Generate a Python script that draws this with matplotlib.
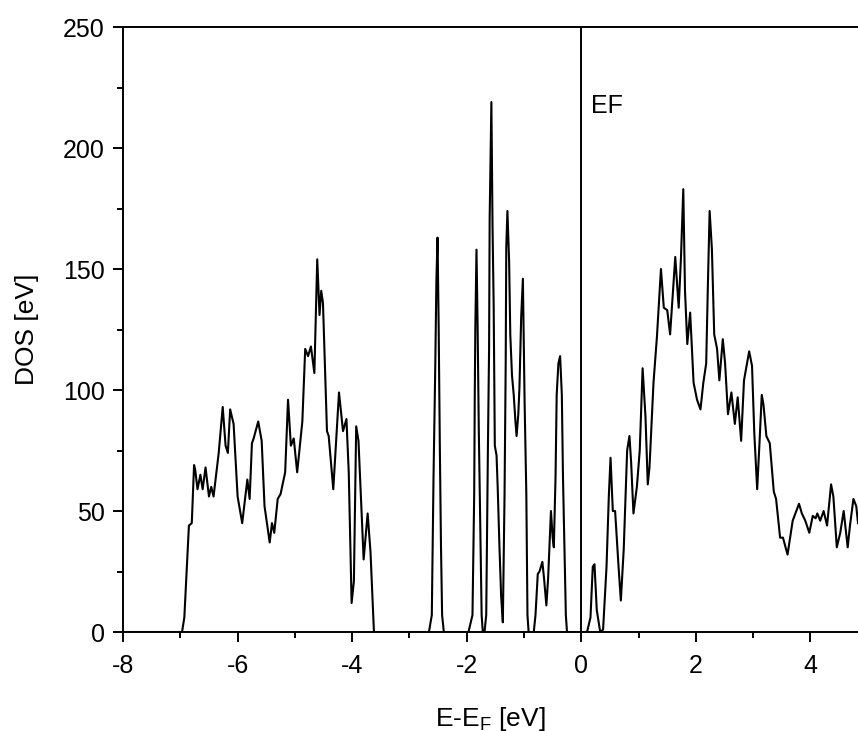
import matplotlib
matplotlib.use("Agg")
import matplotlib.pyplot as plt
from matplotlib.ticker import MultipleLocator

plt.rcParams["font.family"] = ["Liberation Sans", "DejaVu Sans"]
plt.rcParams["axes.unicode_minus"] = False
plt.rcParams["mathtext.fontset"] = "custom"
plt.rcParams["mathtext.rm"] = "Liberation Sans"

# energy relative to Fermi level (eV) and density of states
energy = [
    -8.00, -6.97, -6.93, -6.88, -6.85, -6.80, -6.76, -6.74, -6.70, -6.65,
    -6.61, -6.56, -6.50, -6.46, -6.42, -6.33, -6.26, -6.21, -6.17, -6.13,
    -6.07, -6.00, -5.92, -5.83, -5.79, -5.75, -5.72, -5.64, -5.58, -5.53,
    -5.44, -5.40, -5.36, -5.30, -5.25, -5.17, -5.12, -5.07, -5.02, -4.96,
    -4.87, -4.82, -4.77, -4.72, -4.66, -4.61, -4.57, -4.54, -4.51, -4.44,
    -4.41, -4.33, -4.28, -4.23, -4.16, -4.10, -4.06, -4.01, -3.97, -3.93,
    -3.89, -3.80, -3.73, -3.68, -3.62,
    -2.66, -2.61, -2.58, -2.55, -2.53, -2.51, -2.49, -2.47, -2.45, -2.43, -2.40,
    -1.97, -1.90, -1.87, -1.86, -1.85, -1.83, -1.81, -1.79, -1.76, -1.74, -1.72,
    -1.69, -1.66, -1.63, -1.61, -1.60, -1.57, -1.55, -1.53, -1.51, -1.48,
    -1.46, -1.43, -1.40, -1.37, -1.34, -1.32, -1.31, -1.29, -1.26, -1.24,
    -1.21, -1.18, -1.15, -1.13, -1.10, -1.08, -1.05, -1.02, -0.99, -0.96,
    -0.94, -0.92,
    -0.83, -0.80, -0.76, -0.73, -0.68, -0.65, -0.61, -0.58, -0.53, -0.50,
    -0.48, -0.45, -0.43, -0.40, -0.37, -0.34, -0.32, -0.29, -0.27, -0.25,
    0.10, 0.16, 0.20, 0.23, 0.27, 0.33, 0.38, 0.44, 0.48, 0.51,
    0.55, 0.59, 0.65, 0.69, 0.74, 0.80, 0.84, 0.87, 0.91, 0.97,
    1.02, 1.07, 1.12, 1.16, 1.19, 1.26, 1.32, 1.39, 1.44, 1.50,
    1.55, 1.59, 1.64, 1.70, 1.74, 1.78, 1.81, 1.85, 1.90, 1.96,
    2.02, 2.08, 2.13, 2.18, 2.21, 2.24, 2.28, 2.32, 2.37, 2.41,
    2.47, 2.51, 2.56, 2.62, 2.68, 2.73, 2.79, 2.84, 2.93, 2.98,
    3.02, 3.07, 3.11, 3.15, 3.18, 3.23, 3.29, 3.36, 3.40, 3.47,
    3.52, 3.60, 3.69, 3.80, 3.85, 3.91, 3.98, 4.04, 4.09, 4.12,
    4.17, 4.23, 4.29, 4.36, 4.40, 4.46, 4.52, 4.58, 4.65, 4.69,
    4.75, 4.80, 4.83,
]
dos = [
    0, 0, 6, 30, 44, 45, 69, 67, 59, 65,
    59, 68, 56, 60, 56, 74, 93, 77, 74, 92,
    86, 56, 45, 63, 55, 78, 80, 87, 79, 52,
    37, 45, 41, 55, 57, 66, 96, 77, 80, 66,
    87, 117, 114, 118, 107, 154, 131, 141, 136, 83,
    81, 59, 79, 99, 83, 88, 66, 12, 21, 85,
    79, 30, 49, 33, 0,
    0, 7, 64, 109, 145, 163, 126, 77, 36, 7, 0,
    0, 7, 57, 98, 126, 158, 126, 84, 36, 7, 0,
    0, 7, 77, 117, 171, 219, 168, 135, 77, 73,
    60, 36, 15, 4, 57, 111, 159, 174, 153, 123,
    106, 98, 87, 81, 90, 101, 130, 146, 95, 57,
    7, 0,
    0, 7, 24, 25, 29, 22, 11, 22, 50, 39,
    35, 64, 98, 111, 114, 98, 64, 29, 7, 0,
    0, 6, 27, 28, 9, 0, 1, 27, 56, 72,
    50, 50, 27, 13, 34, 75, 81, 70, 49, 60,
    75, 109, 89, 61, 68, 103, 122, 150, 134, 133,
    123, 137, 155, 134, 155, 183, 141, 119, 132, 103,
    96, 92, 103, 111, 144, 174, 158, 123, 117, 104,
    121, 111, 90, 99, 86, 97, 79, 104, 116, 110,
    82, 59, 78, 98, 94, 81, 78, 58, 55, 39,
    39, 32, 46, 53, 49, 46, 41, 48, 47, 49,
    46, 50, 44, 61, 56, 35, 41, 50, 35, 44,
    55, 52, 45,
]

fig = plt.figure(figsize=(8.58, 7.31), dpi=100)
ax = fig.add_axes([0.1434, 0.1354, 0.8566, 0.8276])

ax.plot(energy, dos, color="black", linewidth=1.5)
ax.axvline(0, color="black", linewidth=1.4)
ax.text(0.175, 214.5, "EF", fontsize=18, va="baseline", ha="left")

ax.set_xlim(-8, 4.83)
ax.set_ylim(0, 250)
ax.xaxis.set_major_locator(MultipleLocator(2))
ax.xaxis.set_minor_locator(MultipleLocator(1))
ax.yaxis.set_major_locator(MultipleLocator(50))
ax.yaxis.set_minor_locator(MultipleLocator(25))

ax.spines["right"].set_visible(False)
for side in ["left", "bottom", "top"]:
    ax.spines[side].set_linewidth(1.4)
ax.tick_params(which="both", direction="out", width=1.4, top=False, right=False)
ax.tick_params(which="major", length=7, labelsize=18)
ax.tick_params(which="minor", length=4)
ax.tick_params(axis="x", which="major", pad=9)
ax.tick_params(axis="y", which="major", pad=6)

ax.set_xlabel("E-E$_\\mathregular{F}$ [eV]", fontsize=19, labelpad=19)
ax.set_ylabel("DOS [eV]", fontsize=19, labelpad=17)

fig.savefig("out.png", dpi=100)
